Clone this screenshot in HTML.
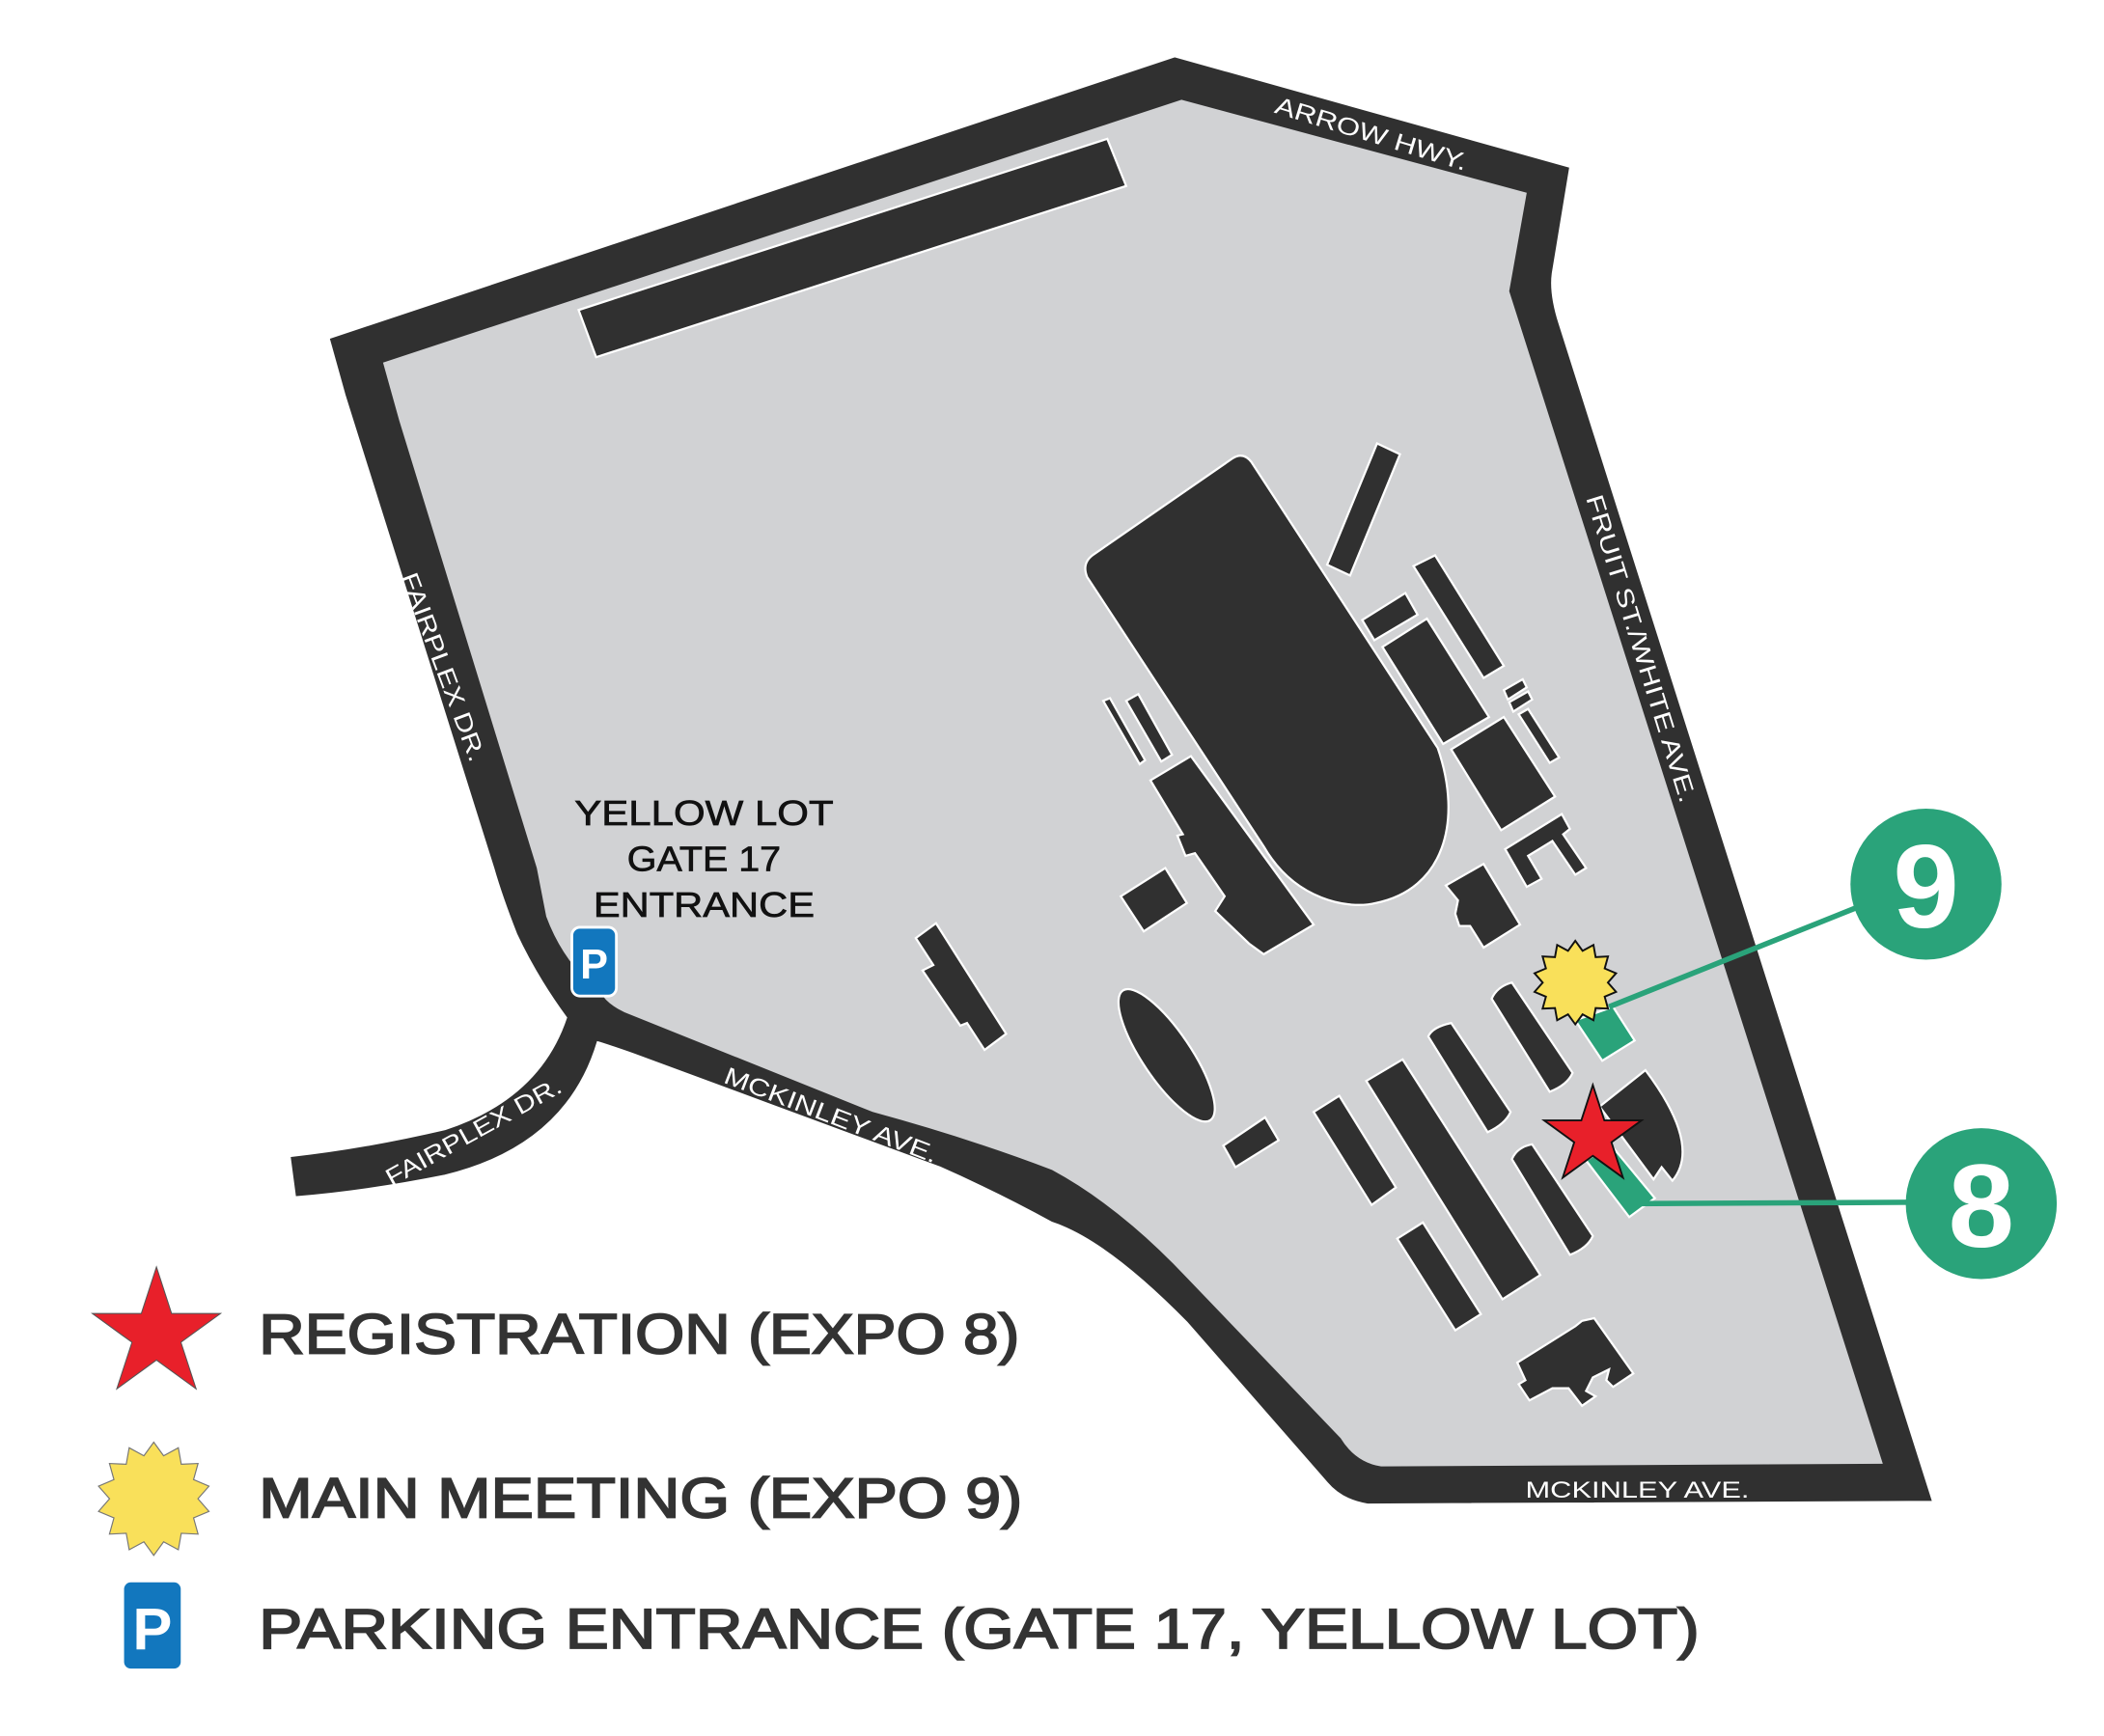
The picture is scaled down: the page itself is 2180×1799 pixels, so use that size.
<!DOCTYPE html>
<html><head><meta charset="utf-8"><style>
html,body{margin:0;padding:0;background:#fff;}
svg{display:block;}
text{font-family:"Liberation Sans",sans-serif;}
</style></head><body>
<svg width="2180" height="1799" viewBox="0 0 1560 1288" preserveAspectRatio="none" xmlns="http://www.w3.org/2000/svg">
<!-- roads outer -->
<path d="M244,251 L871,42 L1164,124 L1151,203 Q1149,218 1156,240 L1433,1114 L1014,1116 Q995,1113 984,1100 L880,981 Q820,920 780,907 Q740,885 697,866 L470,782 Q450,775 443,773 Q420,850 330,872 Q270,884 219,888 L215,858 Q270,852 330,838 Q400,815 420,755 Q398,725 383,693 Q372,665 366,644 L256,294 Z" fill="#303030" stroke="#fff" stroke-width="1"/>
<!-- gray ground -->
<path d="M284,269 L876,74 L1132,143 L1119,216 L1396,1086 L1024,1088 Q1005,1085 994,1067 L880,948 Q830,895 780,868 Q720,845 647,825 L463,751 Q450,745 445,736 Q418,715 405,680 L398,644 L296,312 Z" fill="#d1d2d4"/>
<g fill="#303030" stroke="#fff" stroke-width="1.6">
<polygon points="429,230 821,103 835,138 442,265"/>
<path d="M810,412 L914,340 Q922,335 928,343 L1066,555 C1085,610 1070,660 1020,670 C1000,675 960,668 937,628 L806,428 Q802,418 810,412 Z"/>
<polygon points="1021,329 1038,337 1001,427 984,419"/>
<polygon points="1048,420 1064,412 1115,494 1100,503"/>
<polygon points="1010,460 1042,440 1051,456 1019,475"/>
<polygon points="1025,480 1058,459 1104,532 1070,552"/>
<polygon points="1115,512 1129,504 1132,510 1118,519"/>
<polygon points="1119,521 1133,513 1136,519 1122,528"/>
<polygon points="1126,530 1133,526 1156,562 1149,566"/>
<polygon points="1076,556 1115,532 1153,591 1113,616"/>
<polygon points="1116,630 1158,604 1164,615 1159,619 1176,644 1168,649 1151,624 1133,635 1143,652 1132,658"/>
<polygon points="1072,657 1100,641 1127,686 1100,703 1090,687 1082,687 1079,678 1081,668"/>
<polygon points="818,520 823,518 849,564 845,567"/>
<polygon points="835,520 844,515 869,560 861,565"/>
<polygon points="853,579 883,561 974,686 937,708 926,700 901,676 908,665 886,633 879,635 873,620 877,619"/>
<polygon points="831,665 864,644 880,670 848,691"/>
<ellipse cx="865" cy="783" rx="18" ry="58" transform="rotate(-34 865 783)"/>
<polygon points="907,850 938,829 948,846 916,866"/>
<polygon points="974,825 993,813 1035,881 1017,894"/>
<polygon points="1013,802 1040,786 1142,946 1114,964"/>
<polygon points="1036,919 1055,907 1098,975 1079,987"/>
<path d="M1059,769 Q1062,762 1076,759 L1120,825 Q1116,834 1103,840 Z"/>
<path d="M1106,741 Q1110,732 1121,729 L1166,796 Q1162,805 1149,810 Z"/>
<path d="M1121,860 Q1125,851 1136,849 L1181,917 Q1177,926 1164,931 Z"/>
<path d="M1186,821 L1220,794 Q1262,850 1240,876 L1232,866 L1226,875 Z"/>
<polygon points="1125,1011 1168,984 1173,980 1182,978 1211,1019 1196,1029 1191,1024 1193,1016 1181,1022 1176,1032 1183,1036 1173,1043 1163,1030 1151,1030 1134,1039 1126,1027 1131,1024"/>
<polygon points="679,696 694,685 746,767 730,779 717,759 712,761 684,720 692,716"/>
</g>
<!-- green markers -->
<g fill="#2aa37a" stroke="#fff" stroke-width="1.6">
<polygon points="1168,757 1196,747 1212,772 1188,787"/>
<polygon points="1176,861 1194,849 1227,889 1208,903"/>
</g>
<line x1="1193" y1="747" x2="1380" y2="672" stroke="#2aa37a" stroke-width="4"/>
<line x1="1212" y1="893" x2="1420" y2="892" stroke="#2aa37a" stroke-width="4"/>
<circle cx="1428" cy="656" r="56" fill="#2aa37a"/>
<text x="1428" y="688" font-size="88" font-weight="bold" fill="#fff" text-anchor="middle">9</text>
<circle cx="1469" cy="893" r="56" fill="#2aa37a"/>
<text x="1469" y="925" font-size="88" font-weight="bold" fill="#fff" text-anchor="middle">8</text>
<polygon transform="translate(1168,729) scale(31)" fill="#f9e05a" stroke="#111" stroke-width="0.045" points="0,-1 .174,-.76 .434,-.901 .486,-.61 .782,-.624 .703,-.338 .975,-.223 .78,0 .975,.223 .703,.338 .782,.624 .486,.61 .434,.901 .174,.76 0,1 -.174,.76 -.434,.901 -.486,.61 -.782,.624 -.703,.338 -.975,.223 -.78,0 -.975,-.223 -.703,-.338 -.782,-.624 -.486,-.61 -.434,-.901 -.174,-.76"/>
<polygon transform="translate(1181,843) scale(38)" fill="#e8202a" stroke="#111" stroke-width="0.035" points="0,-1 .2245,-.309 .951,-.309 .363,.118 .588,.809 0,.382 -.588,.809 -.363,.118 -.951,-.309 -.2245,-.309"/>
<!-- parking on map -->
<rect x="424" y="688" width="33" height="51" rx="6" fill="#1277be" stroke="#fff" stroke-width="2"/>
<text x="440.5" y="726" font-size="31" font-weight="bold" fill="#fff" text-anchor="middle">P</text>
<!-- map labels -->
<g font-size="26" fill="#111" stroke="#111" stroke-width="0.5" text-anchor="middle">
<text x="522" y="612" textLength="192" lengthAdjust="spacingAndGlyphs">YELLOW LOT</text>
<text x="522" y="646" textLength="114" lengthAdjust="spacingAndGlyphs">GATE 17</text>
<text x="522" y="680" textLength="164" lengthAdjust="spacingAndGlyphs">ENTRANCE</text>
</g>
<g font-size="18" fill="#fff" text-anchor="middle">
<text transform="translate(1015,105) rotate(17)" textLength="148" lengthAdjust="spacingAndGlyphs">ARROW HWY.</text>
<text transform="translate(1211,483) rotate(72.8)" textLength="238" lengthAdjust="spacingAndGlyphs">FRUIT ST./WHITE AVE.</text>
<text transform="translate(323,497) rotate(69.5)" textLength="148" lengthAdjust="spacingAndGlyphs">FAIRPLEX DR.</text>
<text transform="translate(614,833) rotate(21)" textLength="168" lengthAdjust="spacingAndGlyphs">MCKINLEY AVE.</text>
<text transform="translate(354,845) rotate(-29)" textLength="146" lengthAdjust="spacingAndGlyphs">FAIRPLEX DR.</text>
<text x="1214" y="1111" font-size="17" textLength="166" lengthAdjust="spacingAndGlyphs">MCKINLEY AVE.</text>
</g>
<!-- legend -->
<polygon transform="translate(116,990) scale(50)" fill="#e8202a" stroke="#555" stroke-width="0.015" points="0,-1 .2245,-.309 .951,-.309 .363,.118 .588,.809 0,.382 -.588,.809 -.363,.118 -.951,-.309 -.2245,-.309"/>
<polygon transform="translate(114,1112) scale(42)" fill="#f9e05a" stroke="#777" stroke-width="0.02" points="0,-1 .174,-.76 .434,-.901 .486,-.61 .782,-.624 .703,-.338 .975,-.223 .78,0 .975,.223 .703,.338 .782,.624 .486,.61 .434,.901 .174,.76 0,1 -.174,.76 -.434,.901 -.486,.61 -.782,.624 -.703,.338 -.975,.223 -.78,0 -.975,-.223 -.703,-.338 -.782,-.624 -.486,-.61 -.434,-.901 -.174,-.76"/>
<rect x="92" y="1174" width="42" height="64" rx="5" fill="#1277be"/>
<text x="113" y="1224" font-size="44" font-weight="bold" fill="#fff" text-anchor="middle">P</text>
<g font-size="42" fill="#333" stroke="#333" stroke-width="1.3">
<text x="192" y="1004" textLength="564" lengthAdjust="spacingAndGlyphs">REGISTRATION (EXPO 8)</text>
<text x="192" y="1126" textLength="566" lengthAdjust="spacingAndGlyphs">MAIN MEETING (EXPO 9)</text>
<text x="192" y="1223" textLength="1068" lengthAdjust="spacingAndGlyphs">PARKING ENTRANCE (GATE 17, YELLOW LOT)</text>
</g>
</svg>
</body></html>
